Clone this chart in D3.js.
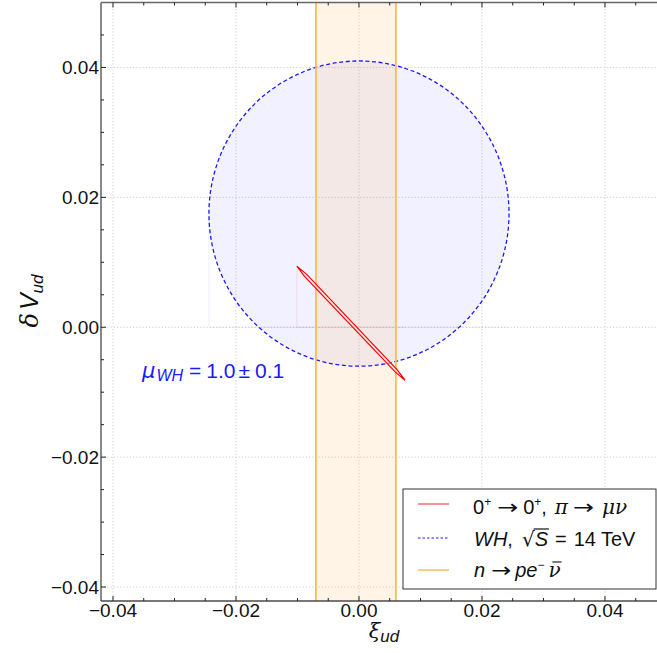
<!DOCTYPE html>
<html><head><meta charset="utf-8">
<script src="https://cdn.jsdelivr.net/npm/d3@7"></script>
<style>body{margin:0;background:#fff} svg{display:block}</style>
</head><body>
<script>
// ---- data ----
const xTicks = [-0.04, -0.02, 0, 0.02, 0.04];
const yTicks = [-0.04, -0.02, 0, 0.02, 0.04];
const xDomain = [-0.04195, 0.04846];
const yDomain = [-0.04215, 0.05];
const whCenter = [0.0, 0.0175];
const whRadius = [0.0244, 0.0235];
const neutronBand = [-0.0070, 0.0060];
const betaRegion = [[-0.0101, 0.0094], [-0.0085, 0.00814], [0.00626, -0.0066], [0.00748, -0.00815], [0.00592, -0.00691], [-0.00886, 0.00783]];
const seriesColors = ["#ff0000", "#1a1aff", "#fbbd55"];

const W = 657, H = 653;
const L = 101, R = 657, T = 2.5, B = 601;
const x = d3.scaleLinear().domain(xDomain).range([L, R]);
const y = d3.scaleLinear().domain(yDomain).range([B, T]);
const fmt = d3.format(".2f");
const SANS = "'Liberation Sans', Arial, Helvetica, sans-serif";
const SERIF = "'DejaVu Serif', 'Liberation Serif', serif";
const DJS = "'DejaVu Sans', sans-serif";

const svg = d3.select("body").append("svg").attr("width", W).attr("height", H);
svg.append("defs").append("clipPath").attr("id", "clip").append("rect")
  .attr("x", L).attr("y", T).attr("width", R - L).attr("height", B - T);
const plot = svg.append("g").attr("clip-path", "url(#clip)");

// gridlines
plot.selectAll(".gx").data(xTicks).join("line")
  .attr("x1", d => x(d)).attr("x2", d => x(d)).attr("y1", T).attr("y2", B)
  .attr("stroke", "#cfcfcf").attr("stroke-width", 1).attr("stroke-dasharray", "1.2,2");
plot.selectAll(".gy").data(yTicks).join("line")
  .attr("y1", d => y(d)).attr("y2", d => y(d)).attr("x1", L).attr("x2", R)
  .attr("stroke", "#cfcfcf").attr("stroke-width", 1).attr("stroke-dasharray", "1.2,2");

// WH circle fill
const ecx = x(whCenter[0]), ecy = y(whCenter[1]);
const erx = x(whCenter[0] + whRadius[0]) - ecx, ery = ecy - y(whCenter[1] + whRadius[1]);
plot.append("ellipse").attr("cx", ecx).attr("cy", ecy).attr("rx", erx).attr("ry", ery)
  .attr("fill", "rgba(20,20,255,0.06)").attr("stroke", "none");
plot.append("path").attr("d", `M${x(whCenter[0]-whRadius[0])},${y(whCenter[1])}V${y(0)}H${x(whCenter[0]+whRadius[0])}`)
  .attr("fill", "none").attr("stroke", "rgba(0,0,255,0.07)").attr("stroke-width", 1);

// neutron band
plot.append("rect").attr("x", x(neutronBand[0])).attr("width", x(neutronBand[1]) - x(neutronBand[0]))
  .attr("y", T).attr("height", B - T).attr("fill", "rgba(255,180,80,0.15)");
plot.append("path").attr("d", `M${x(betaRegion[0][0])},${y(betaRegion[0][1])}V${y(0)}H${x(betaRegion[3][0])}`)
  .attr("fill", "none").attr("stroke", "rgba(255,0,0,0.1)").attr("stroke-width", 1);

// WH dashed outline
plot.append("ellipse").attr("cx", ecx).attr("cy", ecy).attr("rx", erx).attr("ry", ery)
  .attr("fill", "none").attr("stroke", seriesColors[1]).attr("stroke-width", 1.3).attr("stroke-dasharray", "4,2.6");

// band edges
plot.selectAll(".be").data(neutronBand).join("line")
  .attr("x1", d => x(d)).attr("x2", d => x(d)).attr("y1", T).attr("y2", B)
  .attr("stroke", seriesColors[2]).attr("stroke-width", 1.8);

// beta region
plot.append("path").datum(betaRegion)
  .attr("d", d3.line().x(d => x(d[0])).y(d => y(d[1])).curve(d3.curveLinearClosed))
  .attr("fill", "rgba(255,225,225,0.6)").attr("stroke", seriesColors[0]).attr("stroke-width", 1.2);

// frame
svg.append("line").attr("x1", L).attr("x2", L).attr("y1", T).attr("y2", B).attr("stroke", "#4a4a4a").attr("stroke-width", 1.3);
svg.append("line").attr("x1", L).attr("x2", W).attr("y1", B).attr("y2", B).attr("stroke", "#4a4a4a").attr("stroke-width", 1.3);
svg.append("line").attr("x1", L).attr("x2", W).attr("y1", T).attr("y2", T).attr("stroke", "#666").attr("stroke-width", 1.6);

// ticks (inward)
const minorX = d3.range(-0.04, 0.0486, 0.005).map(v => +v.toFixed(3));
const minorY = d3.range(-0.04, 0.0501, 0.005).map(v => +v.toFixed(3));
const isMajor = v => Math.abs(v / 0.02 - Math.round(v / 0.02)) < 1e-6;
const tk = svg.append("g").attr("stroke", "#222").attr("stroke-width", 1);
minorX.forEach(v => {
  const len = isMajor(v) ? 5 : 3;
  tk.append("line").attr("x1", x(v)).attr("x2", x(v)).attr("y1", B).attr("y2", B - len);
  tk.append("line").attr("x1", x(v)).attr("x2", x(v)).attr("y1", T).attr("y2", T + len);
});
minorY.forEach(v => {
  if (y(v) < T + 1) return;
  const len = isMajor(v) ? 5 : 3;
  tk.append("line").attr("y1", y(v)).attr("y2", y(v)).attr("x1", L).attr("x2", L + len);
});

// tick labels
svg.selectAll(".yl").data(yTicks).join("text")
  .attr("x", L - 2).attr("y", d => y(d)).attr("dy", "0.35em").attr("text-anchor", "end")
  .style("font-family", SANS).style("font-size", "19px").attr("fill", "#111").text(d => fmt(d));
svg.selectAll(".xl").data(xTicks).join("text")
  .attr("x", d => x(d)).attr("y", 617).attr("text-anchor", "middle")
  .style("font-family", SANS).style("font-size", "19px").attr("fill", "#111").text(d => fmt(d));

// text helper: flowing runs with optional spacing / forced width
function rich(parent, x0, y0, runs, color, baseFs) {
  let cx = x0; const boxes = [];
  runs.forEach(r => {
    const fs = r.fs || baseFs || 20;
    const px = cx;
    const t = parent.append("text").attr("x", px).attr("y", y0 + (r.dy || 0)).text(r.t)
      .style("font-family", r.ff || SANS).style("font-size", fs + "px")
      .style("font-style", r.it ? "italic" : "normal").attr("fill", color);
    if (r.w) t.attr("textLength", r.w).attr("lengthAdjust", "spacingAndGlyphs");
    const w = r.w || t.node().getComputedTextLength();
    boxes.push({ x0: px, x1: px + w });
    cx = px + w + (r.sp || 0);
  });
  return { boxes, width: cx - x0 };
}

// axis titles (centered on frame)
const xt = svg.append("g");
const xtr = rich(xt, 0, 638, [{ t: "ξ", it: true, ff: SERIF, fs: 21 }, { t: "ud", it: true, fs: 17, dy: 4 }], "#111");
xt.attr("transform", `translate(${384 - xtr.width / 2},0)`);
const yt = svg.append("g");
const ytin = yt.append("g");
const ytr = rich(ytin, 0, 0, [{ t: "δ", it: true, ff: SERIF, fs: 24, sp: 3 }, { t: "V", it: true, fs: 25 }, { t: "ud", it: true, fs: 17, dy: 5 }], "#111");
ytin.attr("transform", `translate(${-ytr.width / 2},0)`);
yt.attr("transform", `translate(38,301) rotate(-90)`);

// annotation
rich(svg, 142, 378, [
  { t: "μ", it: true, ff: DJS, fs: 21, sp: 1 },
  { t: "WH", it: true, fs: 16, dy: 3, sp: 6 },
  { t: "=", sp: 5 },
  { t: "1.0", sp: 3 },
  { t: "±", sp: 5 },
  { t: "0.1" }], seriesColors[1], 21);

// legend
const lg = svg.append("g");
lg.append("rect").attr("x", 403).attr("y", 489).attr("width", 253).attr("height", 100)
  .attr("fill", "#fff").attr("stroke", "#333").attr("stroke-width", 1);
const legY = [504, 538, 570];
lg.append("line").attr("x1", 418).attr("x2", 449).attr("y1", legY[0]).attr("y2", legY[0]).attr("stroke", "#ff6a6a").attr("stroke-width", 1.5);
lg.append("line").attr("x1", 418).attr("x2", 449).attr("y1", legY[1]).attr("y2", legY[1]).attr("stroke", seriesColors[1]).attr("stroke-width", 1).attr("stroke-dasharray", "2.5,2");
lg.append("line").attr("x1", 418).attr("x2", 449).attr("y1", legY[2]).attr("y2", legY[2]).attr("stroke", seriesColors[2]).attr("stroke-width", 1.5);

rich(lg, 473, 514, [
  { t: "0" }, { t: "+", fs: 12, dy: -8, sp: 6 },
  { t: "→", ff: DJS, w: 21, sp: 5 },
  { t: "0" }, { t: "+", fs: 12, dy: -8 }, { t: ",", sp: 8 },
  { t: "π", it: true, ff: SERIF, sp: 5 },
  { t: "→", ff: DJS, w: 21, sp: 8 },
  { t: "μν", it: true, ff: SERIF }], "#111");
const l2 = rich(lg, 474, 546, [
  { t: "WH", it: true }, { t: ",", sp: 9 },
  { t: "√", ff: DJS }, { t: "S", it: true, sp: 7 },
  { t: "=", sp: 7 }, { t: "14", sp: 5 }, { t: "TeV" }], "#111");
lg.append("line").attr("x1", l2.boxes[2].x1 - 1).attr("x2", l2.boxes[3].x1 + 1).attr("y1", 529).attr("y2", 529).attr("stroke", "#111").attr("stroke-width", 1.2);
const l3 = rich(lg, 474, 577, [
  { t: "n", it: true, sp: 6 },
  { t: "→", ff: DJS, w: 20, sp: 4 },
  { t: "pe", it: true }, { t: "−", fs: 12, dy: -8, sp: 4 },
  { t: "ν", it: true, ff: SERIF }], "#111");
lg.append("line").attr("x1", l3.boxes[4].x0 + 4).attr("x2", l3.boxes[4].x1 + 1).attr("y1", 577 - 15).attr("y2", 577 - 15).attr("stroke", "#111").attr("stroke-width", 1.1);
</script>
</body></html>
